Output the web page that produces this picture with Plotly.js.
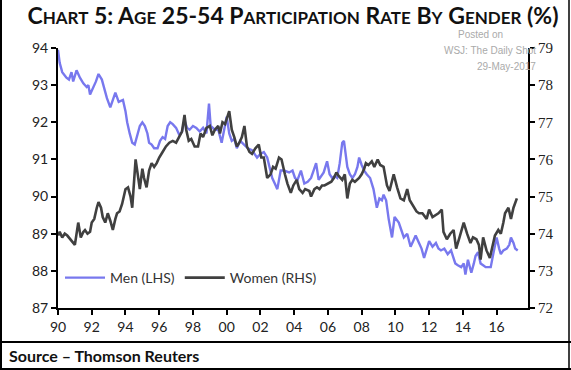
<!DOCTYPE html>
<html>
<head>
<meta charset="utf-8">
<script src="https://cdn.plot.ly/plotly-3.0.1.min.js"></script>
<style>
html,body{margin:0;padding:0;background:#fff;}
#chart{width:571px;height:370px;}
</style>
</head>
<body>
<div id="chart"></div>
<script>
// Men (LHS), decimal years and values
var menYears = [1990.0,1990.1,1990.25,1990.4,1990.5,1990.65,1990.8,1990.9,1991.1,1991.3,1991.5,1991.7,1991.8,1991.9,1992.05,1992.25,1992.4,1992.6,1992.75,1992.9,1993.1,1993.25,1993.4,1993.6,1993.85,1994.0,1994.1,1994.25,1994.4,1994.55,1994.7,1994.85,1995.0,1995.15,1995.3,1995.4,1995.55,1995.7,1995.9,1996.05,1996.2,1996.35,1996.5,1996.65,1996.8,1997.0,1997.2,1997.35,1997.5,1997.65,1997.8,1998.0,1998.2,1998.4,1998.6,1998.8,1998.95,1999.05,1999.3,1999.5,1999.7,1999.85,2000.0,2000.15,2000.3,2000.45,2000.6,2000.8,2001.05,2001.25,2001.5,2001.7,2001.8,2002.0,2002.2,2002.4,2002.55,2002.7,2002.85,2003.0,2003.2,2003.4,2003.7,2003.9,2004.05,2004.2,2004.4,2004.6,2004.8,2005.0,2005.15,2005.3,2005.45,2005.6,2005.75,2005.95,2006.1,2006.25,2006.4,2006.55,2006.7,2006.85,2006.95,2007.15,2007.3,2007.45,2007.6,2007.75,2007.85,2008.0,2008.15,2008.3,2008.5,2008.7,2008.9,2009.05,2009.2,2009.3,2009.45,2009.6,2009.8,2009.95,2010.2,2010.35,2010.5,2010.7,2010.9,2011.05,2011.2,2011.4,2011.55,2011.7,2011.85,2012.0,2012.2,2012.4,2012.55,2012.7,2012.9,2013.1,2013.3,2013.45,2013.55,2013.7,2013.9,2014.05,2014.15,2014.3,2014.5,2014.65,2014.75,2014.9,2015.05,2015.2,2015.35,2015.5,2015.65,2015.8,2016.0,2016.15,2016.25,2016.4,2016.6,2016.75,2016.85,2017.0,2017.1,2017.25];
var menValues = [93.95,93.6,93.35,93.25,93.2,93.15,93.35,93.1,93.4,93.2,93.05,92.95,93.0,92.75,92.9,93.1,93.3,93.15,92.9,92.65,92.4,92.6,92.8,92.55,92.6,92.3,92.0,91.7,91.45,91.4,91.65,91.9,92.0,91.9,91.7,91.45,91.4,91.3,91.3,91.5,91.6,91.55,91.9,92.0,91.95,91.85,91.65,91.75,92.05,91.85,91.8,91.9,91.85,91.75,91.85,91.7,92.5,91.9,91.8,91.8,91.45,91.8,92.15,91.7,91.5,91.55,91.3,91.5,91.4,91.3,91.25,91.1,91.05,91.15,91.2,91.05,90.8,90.5,90.35,90.2,90.7,90.7,90.65,90.7,90.5,90.45,90.7,90.35,90.4,90.5,90.7,90.9,90.45,90.55,90.65,90.95,90.6,90.5,90.55,90.5,90.9,91.45,91.5,90.8,90.6,90.5,90.6,90.8,91.05,90.85,90.7,90.6,90.5,90.2,89.7,89.95,89.9,90.05,89.9,89.4,88.9,89.45,89.3,89.1,88.9,89.0,88.65,88.8,88.95,88.75,88.6,88.35,88.6,88.8,88.65,88.75,88.6,88.55,88.6,88.45,88.55,88.35,88.2,88.15,88.1,88.2,87.9,88.3,87.95,88.2,88.4,88.5,88.2,88.15,88.1,88.1,88.1,88.45,88.9,88.6,88.45,88.55,88.6,88.7,88.9,88.75,88.6,88.55];

// Women (RHS)
var womenYears = [1990.0,1990.1,1990.25,1990.4,1990.55,1990.75,1991.0,1991.2,1991.35,1991.5,1991.6,1991.75,1991.9,1992.0,1992.15,1992.3,1992.4,1992.55,1992.65,1992.8,1992.95,1993.1,1993.25,1993.4,1993.5,1993.65,1993.8,1994.0,1994.15,1994.3,1994.4,1994.6,1994.75,1994.85,1995.0,1995.1,1995.25,1995.4,1995.55,1995.7,1995.85,1996.0,1996.2,1996.4,1996.6,1996.8,1997.0,1997.2,1997.35,1997.5,1997.6,1997.75,1997.9,1998.1,1998.3,1998.45,1998.6,1998.8,1999.0,1999.15,1999.3,1999.5,1999.6,1999.75,1999.9,2000.15,2000.3,2000.45,2000.6,2000.75,2000.9,2001.05,2001.2,2001.35,2001.5,2001.7,2001.9,2002.05,2002.2,2002.4,2002.6,2002.75,2002.9,2003.1,2003.25,2003.45,2003.6,2003.8,2003.95,2004.15,2004.3,2004.5,2004.65,2004.9,2005.0,2005.2,2005.35,2005.5,2005.65,2005.8,2006.0,2006.2,2006.35,2006.5,2006.65,2006.85,2007.0,2007.15,2007.3,2007.45,2007.6,2007.85,2008.0,2008.15,2008.25,2008.4,2008.6,2008.75,2008.95,2009.1,2009.3,2009.5,2009.65,2009.9,2010.1,2010.3,2010.5,2010.7,2010.85,2011.1,2011.25,2011.4,2011.6,2011.85,2012.0,2012.2,2012.35,2012.55,2012.75,2012.85,2013.05,2013.25,2013.45,2013.6,2013.8,2014.05,2014.25,2014.45,2014.6,2014.8,2014.95,2015.05,2015.2,2015.4,2015.6,2015.75,2015.9,2016.1,2016.25,2016.4,2016.5,2016.7,2016.85,2017.0,2017.2];
var womenValues = [73.95,74.05,73.9,74.0,73.95,73.85,73.7,74.3,73.9,74.05,74.1,74.0,74.05,74.3,74.4,74.7,74.85,74.7,74.45,74.3,74.55,74.35,74.1,74.4,74.55,74.6,74.8,75.2,75.25,75.0,74.7,76.0,75.5,75.2,75.75,75.5,75.25,75.7,75.9,75.8,75.9,76.05,76.2,76.35,76.45,76.5,76.45,76.6,76.75,77.2,76.8,76.5,76.55,76.35,76.35,76.7,76.6,76.85,76.9,76.65,76.8,76.9,76.7,77.0,76.95,77.3,76.8,76.6,76.35,76.45,76.6,76.9,76.35,76.2,76.15,76.3,76.4,76.05,76.05,75.5,75.6,75.8,75.75,76.05,76.0,75.6,75.35,75.1,75.3,75.45,75.2,75.1,75.2,75.15,75.0,75.2,75.25,75.2,75.3,75.3,75.35,75.4,75.5,75.65,75.55,75.45,75.6,74.95,75.35,75.45,75.4,75.5,75.6,75.75,75.9,75.85,75.95,75.8,76.0,75.85,75.8,75.3,75.15,75.6,75.25,74.95,74.9,75.2,74.9,74.7,74.6,74.55,74.55,74.4,74.65,74.45,74.5,74.55,74.65,74.05,73.85,74.0,74.1,73.6,73.9,74.3,74.0,73.75,73.9,73.85,73.7,73.3,73.9,73.55,73.35,73.7,73.95,74.1,74.0,74.3,74.55,74.7,74.4,74.7,74.95];

var xTickVals = [1990,1992,1994,1996,1998,2000,2002,2004,2006,2008,2010,2012,2014,2016];
var xTickText = ['90','92','94','96','98','00','02','04','06','08','10','12','14','16'];
var seriesNames = ['Men (LHS)','Women (RHS)'];

var FONT = 'Lato, "Open Sans", sans-serif';
var sc = function(big, small){ return big + '<span style="font-size:17px">' + small + '</span>'; };
var titleText = sc('C','HART') + ' 5: ' + sc('A','GE') + ' 25-54 ' + sc('P','ARTICIPATION') + ' ' + sc('R','ATE') + ' ' + sc('B','Y') + ' ' + sc('G','ENDER') + ' (%)';

var traces = [
  {x: menYears, y: menValues, type:'scatter', mode:'lines', name: seriesNames[0],
   line:{color:'#7878ee', width:2.4}, yaxis:'y'},
  {x: womenYears, y: womenValues, type:'scatter', mode:'lines', name: seriesNames[1],
   line:{color:'#404040', width:2.6}, yaxis:'y2'}
];

var axisCommon = {showgrid:false, zeroline:false, showline:true, linecolor:'#000', linewidth:2,
  ticks:'outside', ticklen:5, tickwidth:2, tickcolor:'#000',
  tickfont:{family:FONT, size:14, color:'#222'}};

var PW = 470, PH = 260, ML = 58, MT = 48;
function px(x){ return (x-ML)/PW; }
function py(y){ return 1-(y-MT)/PH; }

var layout = {
  width:571, height:370,
  margin:{l:ML, r:43, t:MT, b:62},
  paper_bgcolor:'#fff', plot_bgcolor:'#fff',
  title:{text:titleText, font:{family:FONT, size:23, color:'#111', weight:'bold'},
         xref:'container', x:293/571, xanchor:'center', yref:'container', y:1-16/370, yanchor:'middle'},
  showlegend:true,
  legend:{orientation:'h', x:px(60), xanchor:'left', y:py(278), yanchor:'middle',
    font:{family:FONT, size:14, color:'#333'}, bgcolor:'rgba(0,0,0,0)', itemwidth:40, tracegroupgap:0},
  xaxis: Object.assign({}, axisCommon, {range:[1990,2017.86], tickmode:'array', tickvals:xTickVals, ticktext:xTickText}),
  yaxis: Object.assign({}, axisCommon, {range:[87,94], dtick:1, tick0:87}),
  yaxis2: Object.assign({}, axisCommon, {range:[72,79], dtick:1, tick0:72, overlaying:'y', side:'right',
     tickfont:{family:'"Liberation Serif", serif', size:15, color:'#222'}}),
  shapes:[
    {type:'line', xref:'paper', yref:'paper', x0:px(1), x1:px(1), y0:py(370), y1:py(0), line:{color:'#000', width:2}},
    {type:'line', xref:'paper', yref:'paper', x0:px(569), x1:px(569), y0:py(370), y1:py(0), line:{color:'#000', width:1.5}},
    {type:'line', xref:'paper', yref:'paper', x0:px(0), x1:px(571), y0:py(342), y1:py(342), line:{color:'#000', width:2}},
    {type:'line', xref:'paper', yref:'paper', x0:px(0), x1:px(571), y0:py(369), y1:py(369), line:{color:'#000', width:2}}
  ],
  annotations:[
    {text:'<b>Source – Thomson Reuters</b>', xref:'paper', yref:'paper', x:px(7), y:py(355),
     xanchor:'left', yanchor:'middle', showarrow:false, font:{family:FONT, size:16, color:'#111'}},
    {text:'Posted on', xref:'paper', yref:'paper', x:px(456), y:py(35), xanchor:'left', yanchor:'middle',
     showarrow:false, font:{family:'"Liberation Sans", Arial, sans-serif', size:10, color:'#aaa'}},
    {text:'WSJ: The Daily Shot', xref:'paper', yref:'paper', x:px(538), y:py(51), xanchor:'right', yanchor:'middle',
     showarrow:false, font:{family:'"Liberation Sans", Arial, sans-serif', size:10, color:'#aaa'}},
    {text:'29-May-2017', xref:'paper', yref:'paper', x:px(538), y:py(67), xanchor:'right', yanchor:'middle',
     showarrow:false, font:{family:'"Liberation Sans", Arial, sans-serif', size:10, color:'#aaa'}}
  ]
};

Plotly.newPlot('chart', traces, layout, {displayModeBar:false, staticPlot:true});
</script>
</body>
</html>
